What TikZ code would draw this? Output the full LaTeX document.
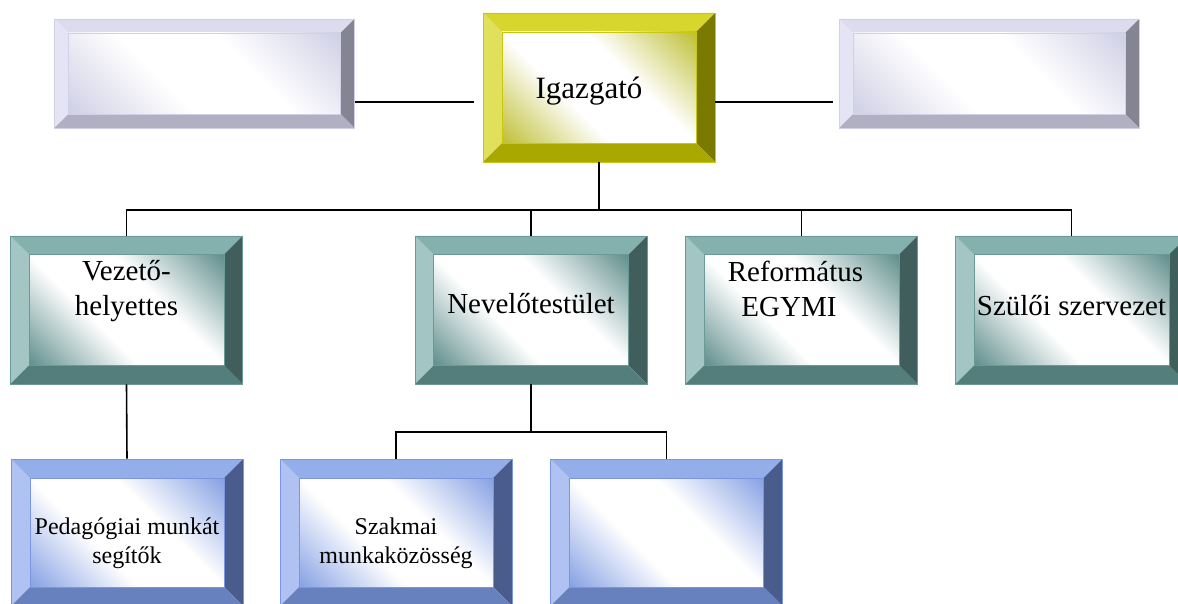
\documentclass[tikz,border=0pt]{standalone}
\usepackage{fontspec}
\setmainfont{Liberation Serif}

% bevel colours: left, top, right, bottom, inner corner, edge
\definecolor{lavLeft}{HTML}{E4E4F4}
\definecolor{lavTop}{HTML}{DCDCEE}
\definecolor{lavRight}{HTML}{848492}
\definecolor{lavBottom}{HTML}{B0B0C2}
\definecolor{lavIn}{HTML}{D0D0E6}
\definecolor{lavEdge}{HTML}{D0D0E6}
\definecolor{yelLeft}{HTML}{E0E05A}
\definecolor{yelTop}{HTML}{D6D62E}
\definecolor{yelRight}{HTML}{7A7A00}
\definecolor{yelBottom}{HTML}{A9A800}
\definecolor{yelIn}{HTML}{C0C038}
\definecolor{yelEdge}{HTML}{C8C810}
\definecolor{tealLeft}{HTML}{A3C6C4}
\definecolor{tealTop}{HTML}{84B0AE}
\definecolor{tealRight}{HTML}{3F5E5C}
\definecolor{tealBottom}{HTML}{547E7C}
\definecolor{tealIn}{HTML}{62908E}
\definecolor{tealEdge}{HTML}{6A9A98}
\definecolor{blueLeft}{HTML}{AFC2F1}
\definecolor{blueTop}{HTML}{94AEEA}
\definecolor{blueRight}{HTML}{4A5C8C}
\definecolor{blueBottom}{HTML}{6780BE}
\definecolor{blueIn}{HTML}{88A2E4}
\definecolor{blueEdge}{HTML}{7A96E0}

\newcommand{\bevelshading}[1]{%
  \pgfdeclarehorizontalshading{#1fill}{100bp}{color(0bp)=(#1In); color(15bp)=(#1In);
    color(40bp)=(white); color(60bp)=(white); color(85bp)=(#1In); color(100bp)=(#1In)}}
\bevelshading{lav}
\bevelshading{yel}
\bevelshading{teal}
\bevelshading{blue}

\tikzset{
  bevelbox/.style 2 args={rectangle, inner sep=0pt, align=center,
    draw=#1Edge, line width=0.6pt,
    path picture={
      \coordinate (bsw) at (path picture bounding box.south west);
      \coordinate (bne) at (path picture bounding box.north east);
      \coordinate (bnw) at (path picture bounding box.north west);
      \coordinate (bse) at (path picture bounding box.south east);
      \coordinate (isw) at ([xshift=#2,yshift=#2]bsw);
      \coordinate (ine) at ([xshift=-#2,yshift=-#2]bne);
      \coordinate (inw) at ([xshift=#2,yshift=-#2]bnw);
      \coordinate (ise) at ([xshift=-#2,yshift=#2]bse);
      \fill[#1Left] (bsw) -- (bnw) -- (inw) -- (isw) -- cycle;
      \fill[#1Top] (bnw) -- (bne) -- (ine) -- (inw) -- cycle;
      \fill[#1Right] (bne) -- (bse) -- (ise) -- (ine) -- cycle;
      \fill[#1Bottom] (bse) -- (bsw) -- (isw) -- (ise) -- cycle;
      \shade[shading=#1fill, shading angle=45] (isw) rectangle (ine);
      \draw[#1Edge, line width=0.6pt] (isw) rectangle (ine);
    }},
  lavbox/.style={bevelbox={lav}{14pt}, minimum width=300pt, minimum height=109pt},
  yelbox/.style={bevelbox={yel}{19pt}, minimum width=232pt, minimum height=149pt,
    font=\fontsize{31}{37}\selectfont},
  tealbox/.style={bevelbox={teal}{18.5pt}, minimum width=232pt, minimum height=148pt,
    font=\fontsize{29}{35}\selectfont},
  bluebox/.style={bevelbox={blue}{19pt}, minimum width=232pt, minimum height=147pt,
    font=\fontsize{24}{29}\selectfont},
  conn/.style={line width=1.6pt},
  sink/.style={text height=#1, text depth=0pt},
}

\begin{document}
\begin{tikzpicture}[x=1pt, y=1pt]
  \useasboundingbox (0,0) rectangle (1178,603);
  \clip (0,0) rectangle (1178,603);

  % top row
  \node[lavbox] (leftTop) at (204.5,529.5) {};
  \node[yelbox, sink=23pt] (igaz) at (599,515.5) {Igazgató\hspace*{20pt}};
  \node[lavbox] (rightTop) at (989,529.5) {};

  % second row
  \node[tealbox, sink=12pt] (vez) at (126.5,293) {Vezető-\\helyettes};
  \node[tealbox, sink=8pt] (nev) at (531,293) {Nevelőtestület};
  \node[tealbox, sink=14pt] (ref) at (801.5,293) {Református\hspace*{12pt}\\EGYMI\hspace*{25pt}};
  \node[tealbox, sink=12pt] (szul) at (1071.5,293) {Szülői szervezet};

  % third row
  \node[bluebox, sink=61pt] (ped) at (127,70.5) {Pedagógiai munkát\\segítők};
  \node[bluebox, sink=61pt] (szak) at (396,70.5) {Szakmai\\munkaközösség};
  \node[bluebox] (third) at (666.5,70.5) {};

  % connectors
  \coordinate (lj) at (474,501);
  \coordinate (rj) at (833,501);
  \draw[conn] (leftTop.east |- lj) -- (lj);
  \draw[conn] (igaz.east |- rj) -- (rj);

  \coordinate (bus) at (0,393);
  \draw[conn] (igaz.south) -- (igaz.south |- bus);
  \draw[conn] (vez.north) -- (vez.north |- bus) -- (szul.north |- bus) -- (szul.north);
  \draw[conn] (nev.north) -- (nev.north |- bus);
  \draw[conn] (ref.north) -- (ref.north |- bus);

  \draw[conn] (vez.south) -- (ped.north);
  \coordinate (sub) at (0,171);
  \draw[conn] (nev.south) -- (nev.south |- sub);
  \draw[conn] (szak.north) -- (szak.north |- sub) -- (third.north |- sub) -- (third.north);
\end{tikzpicture}
\end{document}
